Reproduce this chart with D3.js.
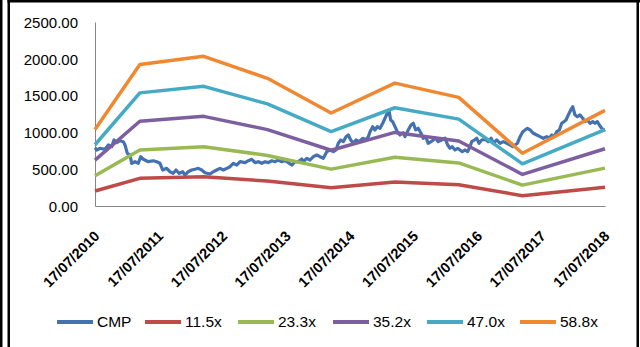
<!DOCTYPE html>
<html><head><meta charset="utf-8">
<script src="https://cdn.jsdelivr.net/npm/d3@7"></script>
<style>
html,body{margin:0;padding:0;background:#fff;}
svg{display:block;}
text{font-family:"Liberation Sans",Arial,sans-serif;fill:#000;}
</style></head>
<body>
<svg id="c" width="640" height="347"></svg>
<script>
// ---------- DATA ----------
const xTickLabels = ["17/07/2010","17/07/2011","17/07/2012","17/07/2013","17/07/2014","17/07/2015","17/07/2016","17/07/2017","17/07/2018"];
const yTicks = [0, 500, 1000, 1500, 2000, 2500];
const bandDates = ["2010-07-17","2011-03-31","2012-03-31","2013-03-31","2014-03-31","2015-03-31","2016-03-31","2017-03-31","2018-07-17"];
const seriesNames = ["CMP","11.5x","23.3x","35.2x","47.0x","58.8x"];
const pe115 = [204, 376, 398, 339, 247, 327, 289, 140, 254];
const pe233 = [412, 762, 806, 687, 501, 662, 585, 284, 515];
const pe352 = [623, 1151, 1218, 1038, 757, 1000, 884, 429, 778];
const pe470 = [832, 1537, 1626, 1387, 1011, 1335, 1180, 573, 1039];
const pe588 = [1041, 1923, 2034, 1735, 1264, 1670, 1476, 717, 1299];
// CMP: [decimal year, price]
const cmp = [
[2010.540,790],[2010.567,761],[2010.618,784],[2010.697,770],[2010.749,829],[2010.802,806],[2010.838,897],[2010.880,860],
[2010.932,887],[2010.984,874],[2011.011,829],[2011.047,716],[2011.089,693],[2011.116,580],[2011.167,602],[2011.219,580],
[2011.257,670],[2011.298,635],[2011.376,602],[2011.455,615],[2011.508,602],[2011.560,580],[2011.602,489],[2011.665,512],
[2011.716,466],[2011.768,444],[2011.811,489],[2011.862,444],[2011.916,466],[2011.952,421],[2012.003,466],[2012.057,489],
[2012.109,500],[2012.160,512],[2012.214,489],[2012.265,452],[2012.344,435],[2012.396,466],[2012.449,489],[2012.501,512],
[2012.553,489],[2012.606,512],[2012.658,534],[2012.709,580],[2012.763,557],[2012.815,602],[2012.893,589],[2012.945,615],
[2012.998,635],[2013.050,589],[2013.102,602],[2013.155,580],[2013.207,602],[2013.258,589],[2013.312,615],[2013.364,602],
[2013.415,625],[2013.469,602],[2013.520,615],[2013.572,589],[2013.626,557],[2013.677,602],[2013.729,602],[2013.782,640],
[2013.807,602],[2013.861,648],[2013.913,625],[2013.964,670],[2014.018,693],[2014.069,670],[2014.121,648],[2014.175,738],
[2014.226,761],[2014.278,738],[2014.320,761],[2014.356,852],[2014.394,897],[2014.435,874],[2014.477,942],[2014.513,965],
[2014.551,897],[2014.592,852],[2014.634,897],[2014.686,874],[2014.739,920],[2014.791,897],[2014.827,942],[2014.854,1010],
[2014.896,1078],[2014.932,1033],[2014.968,1078],[2015.011,1056],[2015.053,1124],[2015.089,1192],[2015.125,1260],[2015.156,1282],
[2015.178,1169],[2015.210,1146],[2015.246,1078],[2015.282,1010],[2015.324,965],[2015.376,996],[2015.403,942],[2015.454,1033],
[2015.497,1100],[2015.533,1124],[2015.571,1033],[2015.611,1056],[2015.654,988],[2015.690,920],[2015.727,942],[2015.768,852],
[2015.811,874],[2015.847,897],[2015.884,920],[2015.925,874],[2015.978,897],[2016.030,920],[2016.073,829],[2016.109,784],
[2016.145,806],[2016.187,761],[2016.229,784],[2016.265,761],[2016.302,738],[2016.344,761],[2016.386,738],[2016.422,806],
[2016.449,874],[2016.490,897],[2016.527,920],[2016.564,852],[2016.606,897],[2016.658,906],[2016.709,874],[2016.752,920],
[2016.788,852],[2016.841,897],[2016.893,852],[2016.945,874],[2016.998,852],[2017.050,829],[2017.093,806],[2017.128,829],
[2017.164,852],[2017.207,942],[2017.249,1010],[2017.285,1033],[2017.321,1056],[2017.364,1033],[2017.415,988],[2017.469,965],
[2017.520,942],[2017.572,920],[2017.625,942],[2017.666,920],[2017.704,965],[2017.740,942],[2017.782,1010],[2017.823,1033],
[2017.860,1124],[2017.897,1146],[2017.928,1169],[2017.964,1237],[2018.002,1305],[2018.033,1349],[2018.069,1237],[2018.106,1214],
[2018.148,1237],[2018.190,1192],[2018.226,1146],[2018.262,1169],[2018.305,1124],[2018.347,1146],[2018.383,1124],[2018.419,1146],
[2018.451,1100],[2018.488,1056],[2018.524,1033],[2018.540,1040]
];
const colors = ["#4472B0","#BE4B48","#98B954","#7D5FA0","#46AAC5","#F08832"];

// ---------- HELPERS ----------
function fromDec(f){const y=Math.floor(f);const s=Date.UTC(y,0,1),e=Date.UTC(y+1,0,1);return new Date(s+(f-y)*(e-s));}
const parse = d3.utcParse("%Y-%m-%d");
const parseTick = d3.utcParse("%d/%m/%Y");

const svg = d3.select("#c");
const L=95, R=605, T=22, B=206;
const x = d3.scaleUtc().domain([parseTick(xTickLabels[0]), parseTick(xTickLabels[xTickLabels.length-1])]).range([L,R]);
const y = d3.scaleLinear().domain([0,2500]).range([B,T]);

// frame
svg.append("rect").attr("x",0).attr("y",0).attr("width",2.5).attr("height",347).attr("fill","#000");
svg.append("rect").attr("x",7.5).attr("y",0).attr("width",2.5).attr("height",347).attr("fill","#000");
svg.append("rect").attr("x",7.5).attr("y",0).attr("width",632.5).attr("height",2.5).attr("fill","#000");
svg.append("rect").attr("x",636.5).attr("y",0).attr("width",2.5).attr("height",347).attr("fill","#000");

// axes
const yAxis = d3.axisLeft(y).tickValues(yTicks).tickFormat(d3.format(".2f")).tickSize(0).tickPadding(17);
const gy = svg.append("g").attr("transform",`translate(${L},0)`).call(yAxis);
gy.select(".domain").attr("stroke","#868686").attr("stroke-width",1);
gy.selectAll("text").style("font-size","15px").attr("dy","0.35em");

const xAxis = d3.axisBottom(x).tickValues(xTickLabels.map(parseTick)).tickFormat(d3.utcFormat("%d/%m/%Y")).tickSize(0).tickPadding(0);
const gx = svg.append("g").attr("transform",`translate(0,${B})`).call(xAxis);
gx.select(".domain").attr("stroke","#868686").attr("stroke-width",1);
gx.selectAll("text")
  .style("font-size","14.5px").style("font-weight","bold")
  .attr("text-anchor","end").attr("y",0).attr("dy",0)
  .attr("transform","translate(5,31) rotate(-45)");

// lines
const lineCmp = d3.line().x(d=>x(fromDec(d[0]))).y(d=>y(d[1]));
svg.append("path").datum(cmp).attr("d",lineCmp).attr("fill","none")
  .attr("stroke",colors[0]).attr("stroke-width",3.2).attr("stroke-linejoin","round");

const bands = [pe115,pe233,pe352,pe470,pe588];
const lineBand = d3.line().x((d,i)=>x(parse(bandDates[i]))).y(d=>y(d));
bands.forEach((b,k)=>{
  svg.append("path").datum(b).attr("d",lineBand).attr("fill","none")
    .attr("stroke",colors[k+1]).attr("stroke-width",3.5).attr("stroke-linejoin","round");
});

// legend
const legX = [57,145,238,333,427,520];
const lg = svg.append("g");
seriesNames.forEach((n,i)=>{
  lg.append("line").attr("x1",legX[i]).attr("x2",legX[i]+36).attr("y1",322).attr("y2",322)
    .attr("stroke",colors[i]).attr("stroke-width",4);
  lg.append("text").attr("x",legX[i]+40).attr("y",322).attr("dy","0.35em")
    .style("font-size","15.5px").text(n);
});
</script>
</body></html>
